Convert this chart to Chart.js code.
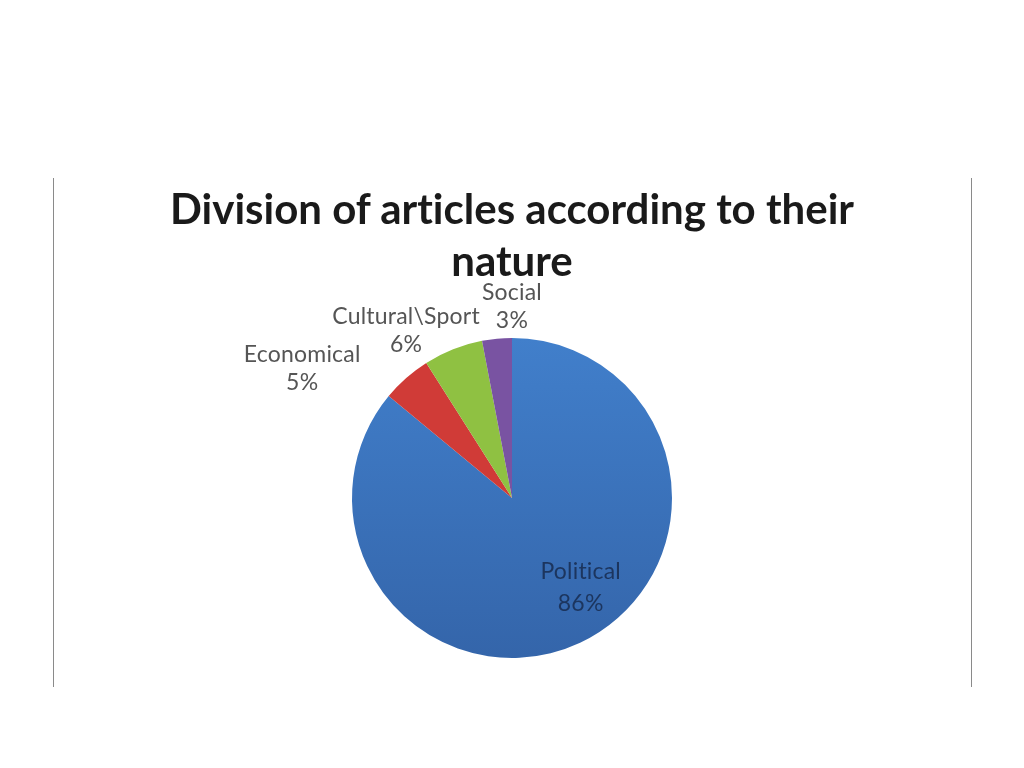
<!DOCTYPE html>
<html>
<head>
<meta charset="utf-8">
<script src="https://cdn.jsdelivr.net/npm/chart.js@4"></script>
<style>
  html, body { margin: 0; padding: 0; background: #fff; }
  #wrap { position: relative; width: 1024px; height: 768px; }
  #frame { position: absolute; left: 53px; top: 178px; width: 917px; height: 509px;
           border-left: 1px solid #8a8a8a; border-right: 1px solid #8a8a8a; }
  #title { position: absolute; left: 0; width: 1024px; top: 182px; text-align: center;
           font-family: Lato, "Open Sans", sans-serif; font-weight: bold; font-size: 42px;
           font-variant-ligatures: none; line-height: 52px; color: #1a1a1a; }
  canvas { position: absolute; left: 0; top: 0; }
</style>
</head>
<body>
<div id="wrap">
  <div id="frame"></div>
  <canvas id="pieChart" width="1024" height="768"></canvas>
  <div id="title">Division of articles according to their<br>nature</div>
</div>
<script>
// 데이터
const categories = ['Political', 'Economical', 'Cultural\\Sport', 'Social']
const shares = [86, 5, 6, 3]
const sliceColors = ['#3b74bf', '#d03b37', '#8fc142', '#7953a2']

// 라벨 위치 보정 (arc 중심각 기준)
const labelStyle = [
    { r: 0.70, dx: 21, dy: -12, gap: 32, color: '#1c355e' },
    { r: 1.0, dx: -104, dy: -9, gap: 28, color: '#555555' },
    { r: 1.0, dx: -47, dy: -19, gap: 28, color: '#555555' },
    { r: 1.0, dx: 15, dy: -32, gap: 28, color: '#555555' }
]

const sliceLabels = {
    id: 'sliceLabels',
    afterDatasetsDraw(chart) {
        const ctx = chart.ctx
        const arcs = chart.getDatasetMeta(0).data
        ctx.save()
        ctx.font = '23px Lato, "Open Sans", sans-serif'
        ctx.letterSpacing = '0.2px' // 리거처(ti) 방지
        ctx.textAlign = 'center'
        ctx.textBaseline = 'middle'
        arcs.forEach((arc, i) => {
            const p = arc.getProps(['x', 'y', 'startAngle', 'endAngle', 'outerRadius'])
            const mid = (p.startAngle + p.endAngle) / 2
            const st = labelStyle[i]
            const x = p.x + Math.cos(mid) * p.outerRadius * st.r + st.dx
            const y = p.y + Math.sin(mid) * p.outerRadius * st.r + st.dy
            ctx.fillStyle = st.color
            ctx.fillText(categories[i], x, y - st.gap / 2)
            ctx.fillText(shares[i] + '%', x, y + st.gap / 2)
        })
        ctx.restore()
    }
}

// 파란 조각은 위→아래로 살짝 어두워지는 그라데이션
function sliceColor(c) {
    const i = c.dataIndex
    const area = c.chart.chartArea
    if (i !== 0 || !area) return sliceColors[i]
    const g = c.chart.ctx.createLinearGradient(0, area.top, 0, area.bottom)
    g.addColorStop(0, '#417fcb')
    g.addColorStop(1, '#3465aa')
    return g
}

const context = document.getElementById('pieChart')
const config = {
    type: 'pie',
    data: {
        labels: categories,
        datasets: [{
            data: shares,
            backgroundColor: sliceColor,
            borderWidth: 0
        }]
    },
    options: {
        responsive: false,
        animation: false,
        layout: { padding: { left: 352, right: 352, top: 338, bottom: 110 } },
        plugins: {
            legend: { display: false },
            tooltip: { enabled: false }
        }
    },
    plugins: [sliceLabels]
}
const myChart = new Chart(context, config)
</script>
</body>
</html>
